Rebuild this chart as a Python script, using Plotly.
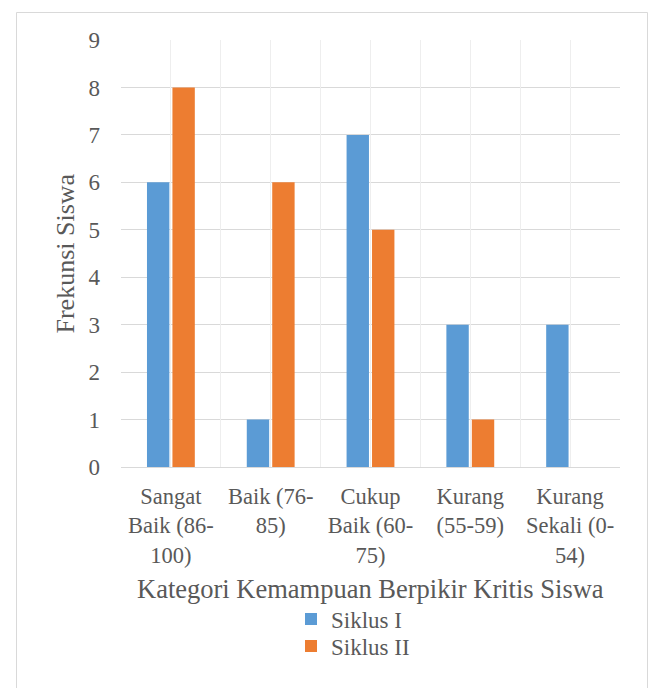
import plotly.graph_objects as go

categories = ["Sangat<br>Baik (86-<br>100)", "Baik (76-<br>85)", "Cukup<br>Baik (60-<br>75)",
              "Kurang<br>(55-59)", "Kurang<br>Sekali (0-<br>54)"]
siklus1 = [6, 1, 7, 3, 3]
siklus2 = [8, 6, 5, 1, 0]
y_ticks = list(range(0, 10))
grid_pos = [-0.5, 0, 0.5, 1, 1.5, 2, 2.5, 3, 3.5, 4, 4.5]

TXT = "#595959"
FONT = "Liberation Serif"

L, R, T, B = 121, 34, 40, 221
W, H = 654, 688
pw, ph = W - L - R, H - T - B

def px_x(x):
    return (x - L) / pw

def px_y(y):
    return (H - B - y) / ph

fig = go.Figure()
# invisible helper trace so the vertical-grid overlay axis is rendered
fig.add_trace(go.Scatter(x=[grid_pos[0], grid_pos[-1]], y=[0, 0], xaxis="x2", mode="markers",
                         marker=dict(opacity=0), hoverinfo="skip", showlegend=False))
fig.add_trace(go.Bar(x=categories, y=siklus1, name="Siklus I",
                     marker=dict(color="#5B9BD5", line=dict(width=0)), legend="legend"))
fig.add_trace(go.Bar(x=categories, y=siklus2, name="Siklus II",
                     marker=dict(color="#ED7D31", line=dict(width=0)), legend="legend2"))

fig.update_layout(
    width=W, height=H,
    margin=dict(l=L, r=R, t=T, b=B, pad=0),
    paper_bgcolor="white", plot_bgcolor="white",
    font=dict(family=FONT, color=TXT, size=22),
    bargap=0.49, bargroupgap=0.12,
    xaxis=dict(type="category", categoryorder="array", categoryarray=categories,
               showgrid=False, range=[-0.5, 4.5],
               showline=True, linecolor="#D9D9D9", linewidth=1,
               ticks="", ticklabelstandoff=9,
               tickfont=dict(size=22.5, color=TXT, family=FONT)),
    xaxis2=dict(overlaying="x", range=[-0.5, 4.5], tickvals=grid_pos,
                showgrid=True, gridcolor="#EEEEEE", showticklabels=False,
                zeroline=False, showline=False, ticks="", side="top"),
    yaxis=dict(range=[0, 9], tickvals=y_ticks, showgrid=True, gridcolor="#D9D9D9", gridwidth=1,
               zeroline=False, showline=False, ticks="", ticklabelstandoff=20,
               tickfont=dict(size=23, color=TXT, family=FONT)),
    legend=dict(x=px_x(291), xanchor="left", y=px_y(619), yanchor="middle",
                font=dict(size=23, color=TXT, family=FONT), bgcolor="rgba(0,0,0,0)"),
    legend2=dict(x=px_x(291), xanchor="left", y=px_y(646), yanchor="middle",
                 font=dict(size=23, color=TXT, family=FONT), bgcolor="rgba(0,0,0,0)"),
    showlegend=True,
)

fig.add_annotation(text="Kategori Kemampuan Berpikir Kritis Siswa", xref="paper", yref="paper",
                   x=0.5, y=px_y(589), xanchor="center", yanchor="middle", showarrow=False,
                   font=dict(size=26.5, color=TXT, family=FONT))
fig.add_annotation(text="Frekunsi Siswa", xref="paper", yref="paper",
                   x=px_x(65), y=0.5, xanchor="center", yanchor="middle", textangle=-90,
                   showarrow=False, font=dict(size=26, color=TXT, family=FONT))

fig.add_shape(type="rect", xref="paper", yref="paper",
              x0=px_x(16.5), x1=px_x(647.5), y0=px_y(12.5), y1=px_y(700),
              line=dict(color="#D9D9D9", width=1), fillcolor="rgba(0,0,0,0)", layer="below")

fig.write_html("out.html")
